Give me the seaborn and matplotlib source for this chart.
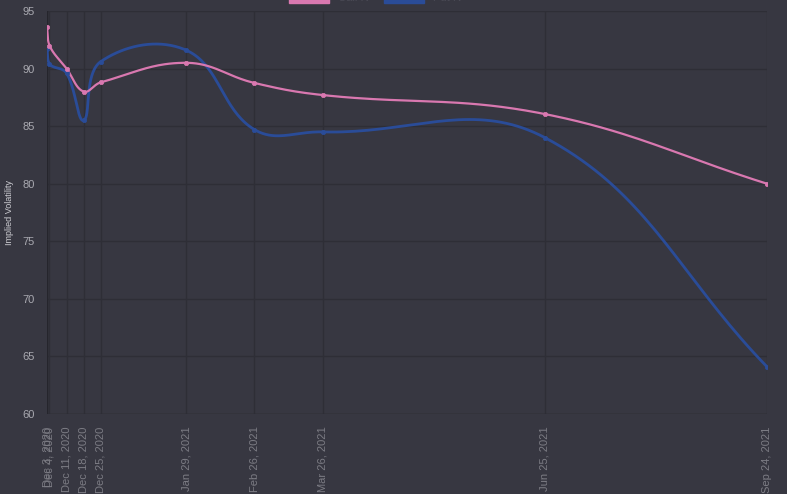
import numpy as np
import pandas as pd
import seaborn as sns
import matplotlib
matplotlib.use("Agg")
import matplotlib.pyplot as plt
import matplotlib.dates as mdates
from matplotlib.patches import Patch

# data
dates = ["2020-12-03", "2020-12-04", "2020-12-11", "2020-12-18", "2020-12-25",
         "2021-01-29", "2021-02-26", "2021-03-26", "2021-06-25", "2021-09-24"]
tick_labels = ["Dec 3, 2020", "Dec 4, 2020", "Dec 11, 2020", "Dec 18, 2020", "Dec 25, 2020",
               "Jan 29, 2021", "Feb 26, 2021", "Mar 26, 2021", "Jun 25, 2021", "Sep 24, 2021"]
call_iv = [93.6, 92.0, 90.0, 88.0, 88.8, 90.5, 88.75, 87.7, 86.05, 80.0]
put_iv = [91.7, 90.4, 89.6, 85.5, 90.6, 91.6, 84.7, 84.5, 84.0, 64.1]
series_names = ["Call IV", "Put IV"]

BG = "#373741"
GRID = "#2e2e36"
PINK = "#d978b0"
BLUE = "#2a4c98"

sns.set_style("dark", {"axes.facecolor": BG, "figure.facecolor": BG})
plt.rcParams["font.family"] = ["Liberation Sans", "DejaVu Sans"]

df = pd.DataFrame({"date": pd.to_datetime(dates), "call": call_iv, "put": put_iv})

fig = plt.figure(figsize=(7.87, 4.94), dpi=100)
ax = fig.add_axes([47 / 787, 1 - 414 / 494, 720 / 787, 403 / 494])
ax.set_facecolor(BG)
ax.set_xlim(df["date"].iloc[0], df["date"].iloc[-1])
ax.set_ylim(60, 95)


def chartjs_spline(xd, yd, tension=0.4):
    # bezier smoothing done in pixel space, like chart.js
    trans = ax.transData
    pts = trans.transform(np.column_stack([xd, yd]))
    n = len(pts)
    cp_prev = np.zeros_like(pts)
    cp_next = np.zeros_like(pts)
    for i in range(n):
        p0 = pts[i - 1] if i > 0 else pts[i]
        p1 = pts[i]
        p2 = pts[i + 1] if i < n - 1 else pts[i]
        d01 = np.hypot(*(p1 - p0))
        d12 = np.hypot(*(p2 - p1))
        tot = d01 + d12
        s01 = d01 / tot if tot else 0
        s12 = d12 / tot if tot else 0
        cp_prev[i] = p1 - tension * s01 * (p2 - p0)
        cp_next[i] = p1 + tension * s12 * (p2 - p0)
    bb = ax.bbox
    cp_prev[:, 0] = np.clip(cp_prev[:, 0], bb.x0, bb.x1)
    cp_next[:, 0] = np.clip(cp_next[:, 0], bb.x0, bb.x1)
    cp_prev[:, 1] = np.clip(cp_prev[:, 1], bb.y0, bb.y1)
    cp_next[:, 1] = np.clip(cp_next[:, 1], bb.y0, bb.y1)
    t = np.linspace(0, 1, 40)[:, None]
    out = [pts[:1]]
    for i in range(n - 1):
        a, b, c, d = pts[i], cp_next[i], cp_prev[i + 1], pts[i + 1]
        seg = ((1 - t) ** 3) * a + 3 * ((1 - t) ** 2) * t * b + 3 * (1 - t) * t ** 2 * c + t ** 3 * d
        out.append(seg[1:])
    curve = np.vstack(out)
    return trans.inverted().transform(curve)


xnum = mdates.date2num(df["date"])
for col, color, lw in [("put", BLUE, 2.0), ("call", PINK, 1.6)]:
    c = chartjs_spline(xnum, df[col].values)
    ax.plot(c[:, 0], c[:, 1], color=color, lw=lw, solid_capstyle="round", zorder=3)
    sns.scatterplot(data=df, x="date", y=col, ax=ax, color=color, s=10,
                    edgecolor=color, linewidth=0.5, zorder=4, legend=False)

ax.set_xlim(df["date"].iloc[0], df["date"].iloc[-1])
ax.set_ylim(60, 95)
ax.set_xticks(df["date"])
ax.set_xticklabels(tick_labels, rotation=90, fontsize=8, color="#7c7c84")
ax.set_yticks(np.arange(60, 96, 5))
ax.tick_params(axis="y", labelsize=8, labelcolor="#a9a9b0", length=0, pad=9)
ax.tick_params(axis="x", length=6, color=GRID, width=1, pad=3)
ax.grid(True, color=GRID, lw=1)
for s in ax.spines.values():
    s.set_visible(False)
ax.axvline(df["date"].iloc[0], color="#25252c", lw=1, zorder=1)
ax.axhline(60, color="#2b2b32", lw=1, zorder=1)
ax.set_xlabel("")
ax.set_ylabel("Implied Volatility", fontsize=6.5, color="#cfcfd4", labelpad=6)

handles = [Patch(facecolor=PINK, edgecolor=PINK), Patch(facecolor=BLUE, edgecolor=BLUE)]
fig.legend(handles, series_names, loc="lower center", bbox_to_anchor=(0.478, 1 - 3 / 494),
           ncol=2, frameon=False, fontsize=8, labelcolor="#4a4a55",
           handlelength=3.6, handleheight=1.1, columnspacing=1.15, borderpad=0,
           borderaxespad=0)

fig.savefig("out.png", dpi=100, facecolor=BG)
